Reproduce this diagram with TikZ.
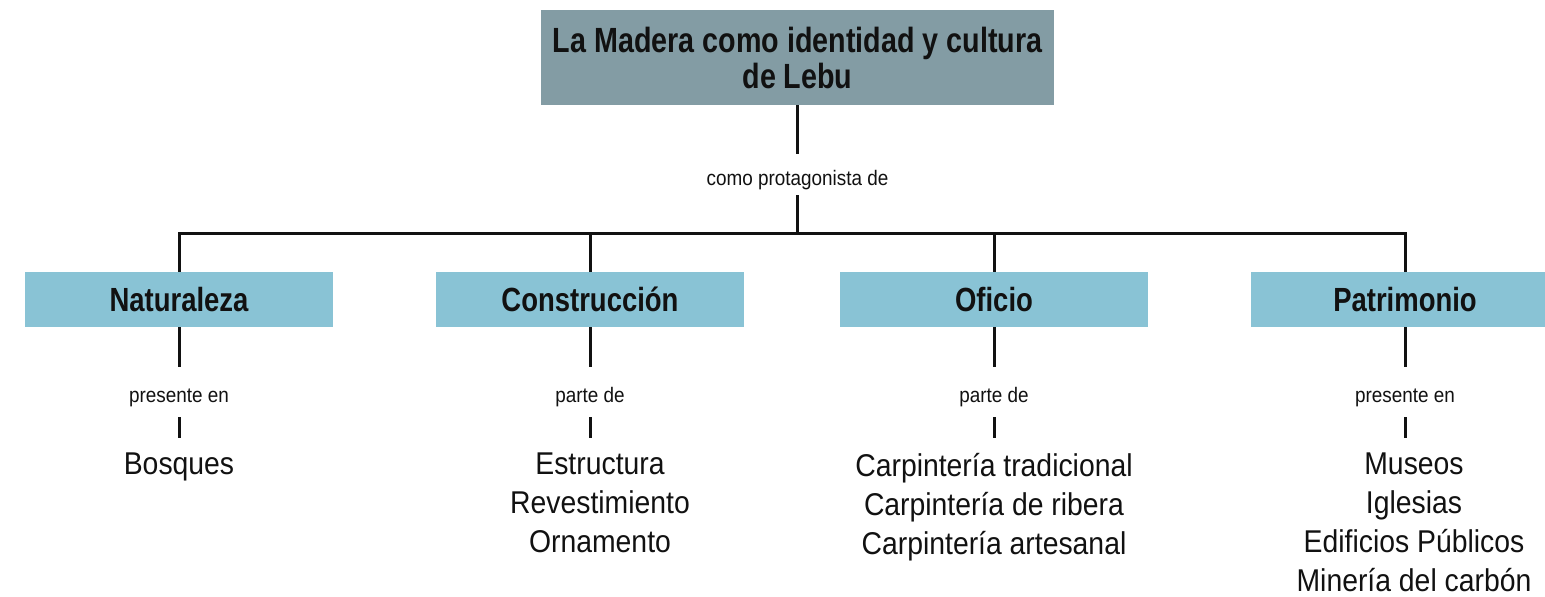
\documentclass[tikz,border=0pt]{standalone}
\usepackage{fontspec}
\setmainfont{Liberation Sans}[FakeStretch=0.9]
\newfontfamily\headfont{Liberation Sans}[FakeStretch=0.82]
\usepackage{xcolor}
\definecolor{steel}{HTML}{839CA4}
\definecolor{sky}{HTML}{89C3D5}
\definecolor{ink}{HTML}{111111}
\usetikzlibrary{positioning}
\tikzset{
  head/.style={fill=steel,minimum width=513pt,minimum height=95pt,inner sep=0pt,
               align=center,text=ink,font=\headfont\bfseries\fontsize{35}{36}\selectfont},
  cat/.style={fill=sky,minimum width=308pt,minimum height=55pt,inner sep=0pt,
              text=ink,font=\headfont\bfseries\fontsize{33.5}{36}\selectfont},
  rel/.style={inner sep=0pt,text height=21pt,text depth=0pt,text=ink,
              font=\fontsize{21}{24}\selectfont},
  items/.style={anchor=north,inner xsep=0pt,inner ysep=15pt,align=center,
                text=ink,font=\fontsize{31.5}{39}\selectfont},
  link/.style={draw=ink,line width=3pt},
}
\begin{document}
\begin{tikzpicture}[x=1pt,y=-1pt]
  \clip (0,0) rectangle (1545,597);
  % ---- root ----
  \node[head] (root) at (797.5,57.5) {La Madera como identidad y cultura\\de Lebu};
  \node[rel,minimum height=41pt] (via) at (797.5,174.5) {como protagonista de};
  \coordinate (bar) at (797.5,233);
  \draw[link] (root.south) -- (via.north);
  \draw[link] (via.south) -- (bar);

  % ---- branches ----
  \foreach \id/\x/\dx/\name/\how/\list in {
      nat/179/0/Naturaleza/presente en/{Bosques},
      con/590/10/Construcción/parte de/{Estructura\\Revestimiento\\Ornamento},
      ofi/994/0/Oficio/parte de/{Carpintería tradicional\\Carpintería de ribera\\Carpintería artesanal},
      pat/1405/9/Patrimonio/presente en/{Museos\\Iglesias\\Edificios Públicos\\Minería del carbón}} {
    \node[cat] (\id) at (\x,299.5) {\name};
    \node[rel,minimum height=50pt] (\id-rel) at (\x,392) {\how};
    \node[items] (\id-list) at (\x+\dx,438) {\list};
    \draw[link] (\id.south) -- (\id-rel.north);
    \draw[link] (\id-rel.south) -- (\id-rel.south |- \id-list.north);
  }
  \draw[link] (nat.north) -- (nat.north |- bar) -- (pat.north |- bar) -- (pat.north);
  \draw[link] (con.north) -- (con.north |- bar);
  \draw[link] (ofi.north) -- (ofi.north |- bar);
\end{tikzpicture}
\end{document}
